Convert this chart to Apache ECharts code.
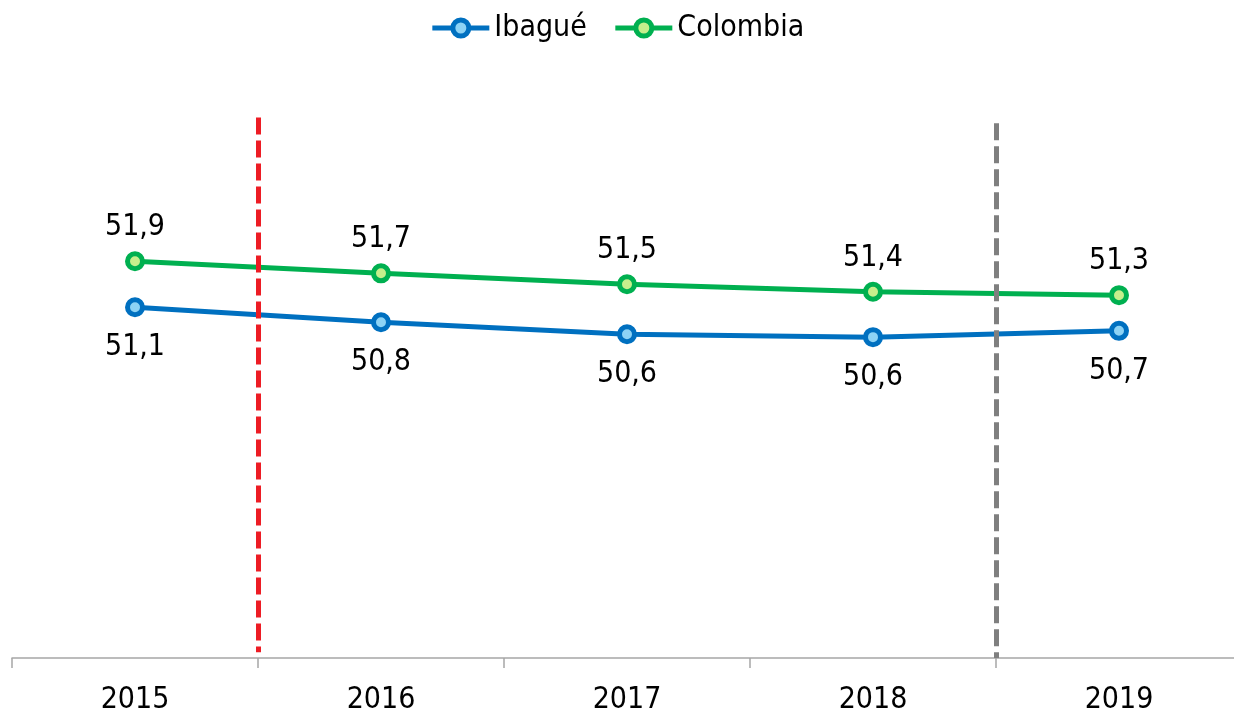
<!DOCTYPE html>
<html>
<head>
<meta charset="utf-8">
<script src="https://cdn.jsdelivr.net/npm/echarts@6/dist/echarts.min.js"></script>
<style>
html,body{margin:0;padding:0;background:#fff;}
#chart{width:1234px;height:713px;}
</style>
</head>
<body>
<div id="chart"></div>
<script>
var categories = ['2015', '2016', '2017', '2018', '2019'];
var ibague = [51.1, 50.84, 50.63, 50.58, 50.69];
var colombia = [51.9, 51.69, 51.5, 51.37, 51.31];
var seriesNames = ['Ibagué', 'Colombia'];
var dividerRed = 1;   // boundary between 2015 and 2016
var dividerGray = 4;  // boundary between 2018 and 2019

var FONT = '"Liberation Sans Narrow", "DejaVu Sans Condensed", "Roboto Condensed", "Open Sans", sans-serif';
function fmt(p) { return p.value.toFixed(1).replace('.', ','); }

var BLUE = '#0070C0', BLUE_IN = '#8DD3F5', GREEN = '#00B050', GREEN_IN = '#C6EF8C';

var chart = echarts.init(document.getElementById('chart'));
chart.setOption({
  animation: false,
  textStyle: { fontFamily: FONT },
  legend: {
    top: 8,
    left: 'center',
    itemWidth: 57,
    itemHeight: 20,
    itemGap: 26,
    textStyle: { fontSize: 30, color: '#000', fontFamily: FONT },
    data: [
      { name: seriesNames[0], lineStyle: { width: 5, color: BLUE }, itemStyle: { color: BLUE_IN, borderColor: BLUE, borderWidth: 5 } },
      { name: seriesNames[1], lineStyle: { width: 5, color: GREEN }, itemStyle: { color: GREEN_IN, borderColor: GREEN, borderWidth: 5 } }
    ]
  },
  grid: { left: 12, right: -8, top: 83, bottom: 55, containLabel: false, outerBoundsMode: 'none' },
  xAxis: [{
    type: 'category',
    data: categories,
    boundaryGap: true,
    axisLine: { lineStyle: { color: '#a6a6a6', width: 1.5 } },
    axisTick: { show: true, length: 10, lineStyle: { color: '#a6a6a6', width: 1.5 } },
    axisLabel: { fontSize: 30, color: '#000', margin: 27, fontFamily: FONT }
  }, {
    type: 'value',
    min: 0,
    max: 5,
    show: false
  }],
  yAxis: {
    type: 'value',
    min: 45,
    max: 55,
    show: false,
    splitLine: { show: false }
  },
  series: [{
    name: seriesNames[0],
    type: 'line',
    data: ibague,
    color: BLUE,
    symbol: 'circle',
    symbolSize: 15,
    lineStyle: { width: 5, color: BLUE },
    itemStyle: { color: BLUE_IN, borderColor: BLUE, borderWidth: 5 },
    label: { show: true, position: 'bottom', distance: 15, fontSize: 30, color: '#000', formatter: fmt, fontFamily: FONT },
    z: 3
  }, {
    name: seriesNames[1],
    type: 'line',
    data: colombia,
    color: GREEN,
    symbol: 'circle',
    symbolSize: 15,
    lineStyle: { width: 5, color: GREEN },
    itemStyle: { color: GREEN_IN, borderColor: GREEN, borderWidth: 5 },
    label: { show: true, position: 'top', distance: 9, fontSize: 30, color: '#000', formatter: fmt, fontFamily: FONT },
    z: 3
  }, {
    name: 'dividers',
    type: 'line',
    xAxisIndex: 1,
    data: [],
    z: 5,
    markLine: {
      silent: true,
      symbol: ['none', 'none'],
      label: { show: false },
      data: [
        [{ coord: [dividerRed, 54.4], lineStyle: { color: '#ED1C24', type: [17, 6], width: 5 } }, { coord: [dividerRed, 45.1] }],
        [{ coord: [dividerGray, 54.3], lineStyle: { color: '#7F7F7F', type: [17, 6], width: 5 } }, { coord: [dividerGray, 45] }]
      ]
    }
  }]
});
</script>
</body>
</html>
